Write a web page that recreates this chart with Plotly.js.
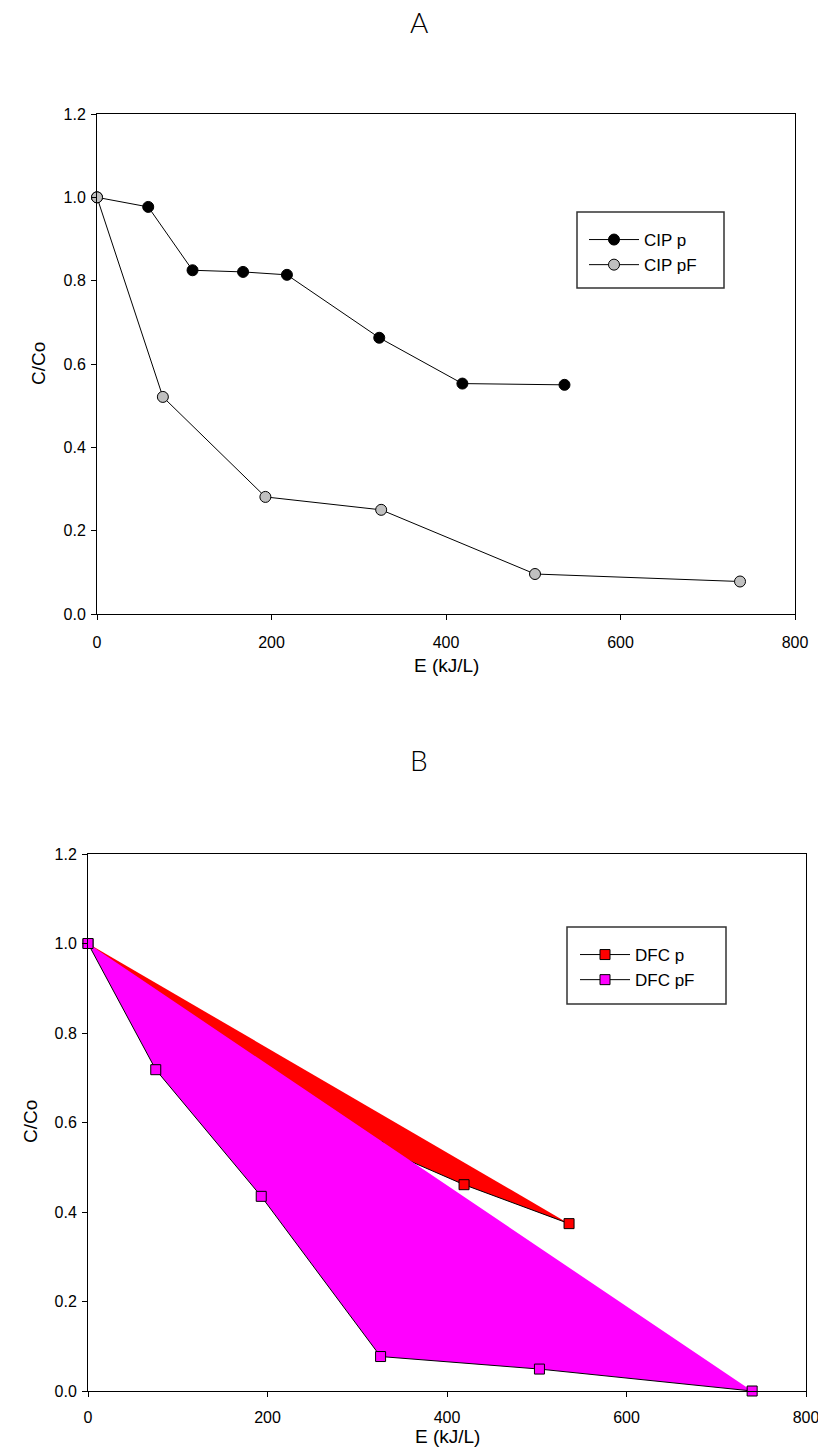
<!DOCTYPE html>
<html>
<head>
<meta charset="utf-8">
<script src="https://cdn.plot.ly/plotly-3.0.1.min.js"></script>
<style>html,body{margin:0;padding:0;background:#fff;}#chart{width:818px;height:1449px;}</style>
</head>
<body>
<div id="chart"></div>
<script>
// ---- Data ----
const xTicks = [0, 200, 400, 600, 800];
const yTicks = [0, 0.2, 0.4, 0.6, 0.8, 1.0, 1.2];
const yTickText = ["0.0", "0.2", "0.4", "0.6", "0.8", "1.0", "1.2"];

// Panel A
const E_cipP  = [0, 58.7, 109.5, 167.4, 217.7, 323.5, 418.8, 535.8];
const C_cipP  = [1.0, 0.977, 0.825, 0.821, 0.814, 0.663, 0.553, 0.550];
const E_cipPF = [0, 75.5, 193, 325.7, 502, 737];
const C_cipPF = [1.0, 0.521, 0.281, 0.250, 0.096, 0.078];

// Panel B
const E_dfcP  = [0, 59, 109, 167, 218, 323, 419, 536];
const C_dfcP  = [1.0, 0.89, 0.80, 0.72, 0.66, 0.545, 0.461, 0.374];
const E_dfcPF = [0, 75.5, 193, 326, 503, 740];
const C_dfcPF = [1.0, 0.718, 0.435, 0.077, 0.049, 0.0];

const W = 818, H = 1449;
const px = v => v / W;
const py = v => 1 - v / H;

const FONT = "Liberation Sans, Arial, sans-serif";
const LINE = {color: "#000", width: 1};

const traces = [
  {x: E_cipP, y: C_cipP, name: "CIP p", type: "scatter", mode: "lines+markers",
   xaxis: "x", yaxis: "y", legend: "legend", cliponaxis: false, line: LINE,
   marker: {symbol: "circle", size: 11, color: "#000", line: {color: "#000", width: 1}}},
  {x: E_cipPF, y: C_cipPF, name: "CIP pF", type: "scatter", mode: "lines+markers",
   xaxis: "x", yaxis: "y", legend: "legend", cliponaxis: false, line: LINE,
   marker: {symbol: "circle", size: 11, color: "#c0c0c0", line: {color: "#000", width: 1}}},
  // DFC p : fill polygon, then its line + markers
  {x: E_dfcP, y: C_dfcP, name: "DFC p", type: "scatter", mode: "none", showlegend: false,
   xaxis: "x2", yaxis: "y2", cliponaxis: false, fill: "toself", fillcolor: "#ff0000"},
  {x: E_dfcP, y: C_dfcP, name: "DFC p", type: "scatter", mode: "lines+markers",
   xaxis: "x2", yaxis: "y2", legend: "legend2", cliponaxis: false, line: LINE,
   marker: {symbol: "square", size: 10, color: "#ff0000", line: {color: "#000", width: 1}}},
  // DFC pF : fill polygon, then its line + markers
  {x: E_dfcPF, y: C_dfcPF, name: "DFC pF", type: "scatter", mode: "none", showlegend: false,
   xaxis: "x2", yaxis: "y2", cliponaxis: false, fill: "toself", fillcolor: "#ff00ff"},
  {x: E_dfcPF, y: C_dfcPF, name: "DFC pF", type: "scatter", mode: "lines+markers",
   xaxis: "x2", yaxis: "y2", legend: "legend2", cliponaxis: false, line: LINE,
   marker: {symbol: "square", size: 10, color: "#ff00ff", line: {color: "#000", width: 1}}}
];

function xax(domain, anchor, standoff) {
  return {domain: domain, anchor: anchor, range: [0, 800], tickvals: xTicks,
    ticktext: xTicks.map(String), showline: true, mirror: true, linecolor: "#000",
    linewidth: 1, ticks: "outside", ticklen: 5, tickcolor: "#000", showgrid: false,
    zeroline: false, tickfont: {family: FONT, size: 16, color: "#000"},
    ticklabelstandoff: standoff, ticklabeloverflow: "allow", fixedrange: true};
}
function yax(domain, anchor) {
  return {domain: domain, anchor: anchor, range: [0, 1.2], tickvals: yTicks,
    ticktext: yTickText, showline: true, mirror: true, linecolor: "#000",
    linewidth: 1, ticks: "outside", ticklen: 5, tickcolor: "#000", showgrid: false,
    zeroline: false, tickfont: {family: FONT, size: 16, color: "#000"},
    ticklabelstandoff: 2, ticklabeloverflow: "allow", fixedrange: true};
}

function ann(text, x, y, size, extra) {
  return Object.assign({text: text, xref: "paper", yref: "paper", x: px(x), y: py(y),
    xanchor: "center", yanchor: "middle", showarrow: false,
    font: {family: FONT, size: size, color: "#000"}}, extra || {});
}

const layout = {
  width: W, height: H,
  margin: {l: 0, r: 0, t: 0, b: 0},
  paper_bgcolor: "#fff", plot_bgcolor: "#fff",
  showlegend: true,
  xaxis: xax([px(97), px(795)], "y", 9),
  yaxis: yax([py(614), py(114)], "x"),
  xaxis2: xax([px(88), px(806)], "y2", 7),
  yaxis2: yax([py(1391), py(854)], "x2"),
  legend: {x: px(584), y: py(222), xanchor: "left", yanchor: "top",
    bgcolor: "rgba(0,0,0,0)", borderwidth: 0, itemwidth: 50,
    font: {family: FONT, size: 17, color: "#000"}},
  legend2: {x: px(575), y: py(937), xanchor: "left", yanchor: "top",
    bgcolor: "rgba(0,0,0,0)", borderwidth: 0, itemwidth: 50,
    font: {family: FONT, size: 17, color: "#000"}},
  shapes: [
    {type: "rect", xref: "paper", yref: "paper", x0: px(577), x1: px(724), y0: py(288), y1: py(212),
     line: {color: "#333", width: 1.5}, fillcolor: "rgba(0,0,0,0)"},
    {type: "rect", xref: "paper", yref: "paper", x0: px(567), x1: px(726), y0: py(1004), y1: py(927),
     line: {color: "#333", width: 1.5}, fillcolor: "rgba(0,0,0,0)"}
  ],
  annotations: [
    ann("A", 419, 22, 28, {font: {family: "Lato, DejaVu Sans, sans-serif", size: 28, color: "#000", weight: 300}}),
    ann("B", 419, 760, 28, {font: {family: "Lato, DejaVu Sans, sans-serif", size: 28, color: "#000", weight: 300}}),
    ann("E (kJ/L)", 446, 665, 19),
    ann("E (kJ/L)", 447, 1436, 19),
    ann("C/Co", 38, 364, 19, {textangle: -90}),
    ann("C/Co", 30, 1122, 19, {textangle: -90})
  ]
};

Plotly.newPlot("chart", traces, layout, {displayModeBar: false, staticPlot: true});
</script>
</body>
</html>
